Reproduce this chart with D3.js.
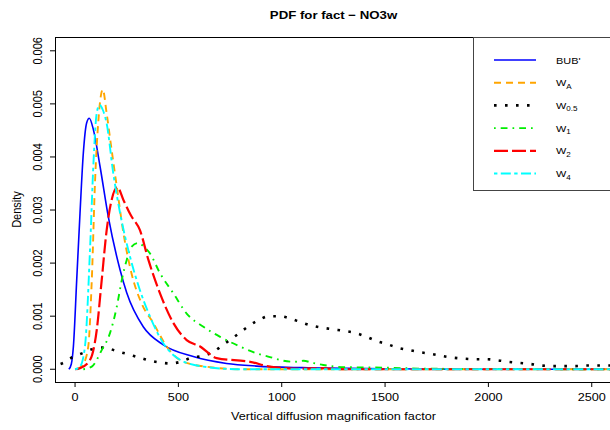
<!DOCTYPE html>
<html>
<head>
<meta charset="utf-8">
<script src="https://cdn.jsdelivr.net/npm/d3@7"></script>
<style>
  body { margin: 0; background: #fff; }
  svg { display: block; font-family: "Liberation Sans", Arial, sans-serif; }
</style>
</head>
<body>
<svg id="chart" width="610" height="430"></svg>
<script>
// density curves, [factor, density]
const bub = [[-30,0],[-18,0.0001],[-8,0.00043],[8,0.00168],[24,0.00294],[40,0.00407],[56,0.00464],[69,0.00473],[89,0.00451],[121,0.00382],[161,0.00287],[218,0.00187],[250,0.00144],[330,0.0008],[427,0.00046],[572,0.00024],[733,0.00011],[879,0.00006],[1100,0.00003],[1500,0.00001],[2000,0],[2600,0]];
const wA = [[10,0],[40,0.0001],[64,0.00043],[81,0.00168],[97,0.00356],[113,0.00469],[134,0.00527],[153,0.00482],[177,0.00413],[202,0.00344],[234,0.00257],[273,0.00181],[322,0.00124],[379,0.00087],[443,0.00043],[524,0.00014],[653,0.00004],[800,0],[2600,0]];
const w05 = [[-70,0.0001],[-57,0.00012],[-11,0.00023],[40,0.00031],[93,0.00039],[145,0.00041],[194,0.00035],[250,0.00029],[302,0.00023],[355,0.00017],[406,0.00013],[460,0.00011],[511,0.00014],[564,0.00022],[618,0.00025],[669,0.00033],[713,0.00045],[755,0.00057],[798,0.00069],[842,0.00082],[890,0.00093],[939,0.001],[992,0.001],[1045,0.00095],[1097,0.00088],[1148,0.00082],[1201,0.00078],[1255,0.00075],[1308,0.00072],[1360,0.00068],[1411,0.00061],[1461,0.00053],[1513,0.00047],[1566,0.0004],[1618,0.00036],[1671,0.00032],[1723,0.00029],[1776,0.00025],[1827,0.00022],[1882,0.0002],[1937,0.00019],[1990,0.00019],[2043,0.00017],[2096,0.00014],[2149,0.00012],[2203,0.0001],[2258,0.00007],[2311,0.00006],[2364,0.00006],[2419,0.00006],[2472,0.00007],[2527,0.00007],[2600,0.00007]];
const w1 = [[40,0],[81,0.00005],[129,0.00036],[169,0.00068],[202,0.00118],[226,0.00168],[250,0.00206],[274,0.00231],[306,0.00238],[335,0.0023],[363,0.00218],[411,0.00181],[476,0.00143],[540,0.00105],[621,0.0008],[702,0.00061],[798,0.00043],[879,0.0003],[943,0.00023],[1008,0.00016],[1060,0.00014],[1105,0.00016],[1150,0.00012],[1201,0.00008],[1300,0.00004],[1500,0.00003],[1700,0.00001],[2600,0]];
const w2 = [[0,0],[24,0.00002],[73,0.00018],[105,0.00074],[129,0.00168],[153,0.00262],[177,0.00319],[205,0.00343],[234,0.00319],[270,0.0029],[314,0.00262],[355,0.00206],[411,0.00143],[476,0.00087],[540,0.00055],[605,0.00043],[685,0.00021],[847,0.00014],[943,0.00005],[1088,0.00001],[1185,0.00002],[1300,0],[2600,0]];
const w4 = [[0,0],[24,0.00005],[48,0.00043],[73,0.00231],[89,0.00388],[104,0.0048],[118,0.00498],[135,0.00488],[153,0.00463],[185,0.00369],[218,0.00294],[266,0.00212],[314,0.00149],[363,0.00099],[427,0.00049],[508,0.00018],[621,0.00005],[800,0],[2600,0]];

const xTicks = [0, 500, 1000, 1500, 2000, 2500];
const yTicks = [0, 0.001, 0.002, 0.003, 0.004, 0.005, 0.006];

const series = [
  {name: "BUB'", sub: null, data: bub, color: "#0000ff", dash: null, w: 1.6},
  {name: "W", sub: "A", data: wA, color: "#ffa500", dash: "7,5", w: 1.9},
  {name: "W", sub: "0.5", data: w05, color: "#000000", dash: "2.6,8.4", w: 2.6},
  {name: "W", sub: "1", data: w1, color: "#00ee00", dash: "1.7,5,6.8,5", w: 1.9},
  {name: "W", sub: "2", data: w2, color: "#ff0000", dash: "14,4", w: 2.2},
  {name: "W", sub: "4", data: w4, color: "#00ffff", dash: "3.4,3.4,10,3.4", w: 1.9}
];

const svg = d3.select("#chart");
const box = {left: 55, right: 612, top: 37, bottom: 382};
const sx = 1.15; // text in the picture is a bit wider than tall

let x = d3.scaleLinear().domain([-97, 2598]).range([box.left, box.right]);
let y = d3.scaleLinear().domain([-0.00024, 0.00626]).range([box.bottom, box.top]);

let wideText = (g, tx, ty, str, size, anchor) => g.append("text")
  .attr("transform", "translate(" + tx + "," + ty + ") scale(" + sx + ",1)")
  .attr("text-anchor", anchor || "middle")
  .style("font-size", size + "px")
  .text(str);

svg.append("clipPath").attr("id", "plotclip")
  .append("rect")
  .attr("x", box.left).attr("y", box.top)
  .attr("width", box.right - box.left).attr("height", box.bottom - box.top);

let line = d3.line()
  .x(d => x(d[0]))
  .y(d => y(d[1]))
  .curve(d3.curveMonotoneX);

let curves = svg.append("g").attr("clip-path", "url(#plotclip)");
series.forEach(s => {
  curves.append("path")
    .attr("d", line(s.data))
    .attr("fill", "none")
    .attr("stroke", s.color)
    .attr("stroke-width", s.w)
    .attr("stroke-dasharray", s.dash)
    .attr("stroke-linejoin", "round");
});

// frame
svg.append("rect")
  .attr("x", box.left + 0.5).attr("y", box.top + 0.5)
  .attr("width", box.right - box.left).attr("height", box.bottom - box.top)
  .attr("fill", "none").attr("stroke", "#000").attr("stroke-width", 1);

// x axis
let xAxis = svg.append("g");
xTicks.forEach(t => {
  xAxis.append("line")
    .attr("x1", x(t)).attr("x2", x(t))
    .attr("y1", box.bottom).attr("y2", box.bottom + 5)
    .attr("stroke", "#000");
  wideText(xAxis, x(t), 401, t, 11);
});
wideText(svg, (box.left + box.right) / 2, 420, "Vertical diffusion magnification factor", 11);

// y axis
let yAxis = svg.append("g");
yTicks.forEach(t => {
  yAxis.append("line")
    .attr("x1", box.left - 5).attr("x2", box.left)
    .attr("y1", y(t)).attr("y2", y(t))
    .attr("stroke", "#000");
  yAxis.append("text")
    .attr("transform", "translate(42," + y(t) + ") scale(" + sx + ",1) rotate(-90)")
    .attr("text-anchor", "middle")
    .style("font-size", "11px")
    .text(d3.format(".3f")(t));
});
svg.append("text")
  .attr("transform", "translate(21," + (box.top + box.bottom) / 2 + ") scale(" + sx + ",1) rotate(-90)")
  .attr("text-anchor", "middle")
  .style("font-size", "11px")
  .text("Density");

// title
wideText(svg, (box.left + box.right) / 2, 19, "PDF for fact \u2212 NO3w", 11.5)
  .style("font-weight", "bold");

// legend
let legend = svg.append("g");
legend.append("rect")
  .attr("x", 473.5).attr("y", box.top + 0.5)
  .attr("width", 150).attr("height", 190 - box.top)
  .attr("fill", "#fff").attr("stroke", "#444").attr("stroke-width", 1);
series.forEach((s, i) => {
  let ly = 60 + i * 22.7;
  legend.append("line")
    .attr("x1", 494).attr("x2", 536)
    .attr("y1", ly).attr("y2", ly)
    .attr("stroke", s.color)
    .attr("stroke-width", s.w)
    .attr("stroke-dasharray", s.dash);
  let t = wideText(legend, 556, ly + 3.5, null, 9.5, "start");
  t.append("tspan").text(s.name);
  if (s.sub) {
    t.append("tspan").attr("dy", 2.5).style("font-size", "7px").text(s.sub);
  }
});
</script>
</body>
</html>
